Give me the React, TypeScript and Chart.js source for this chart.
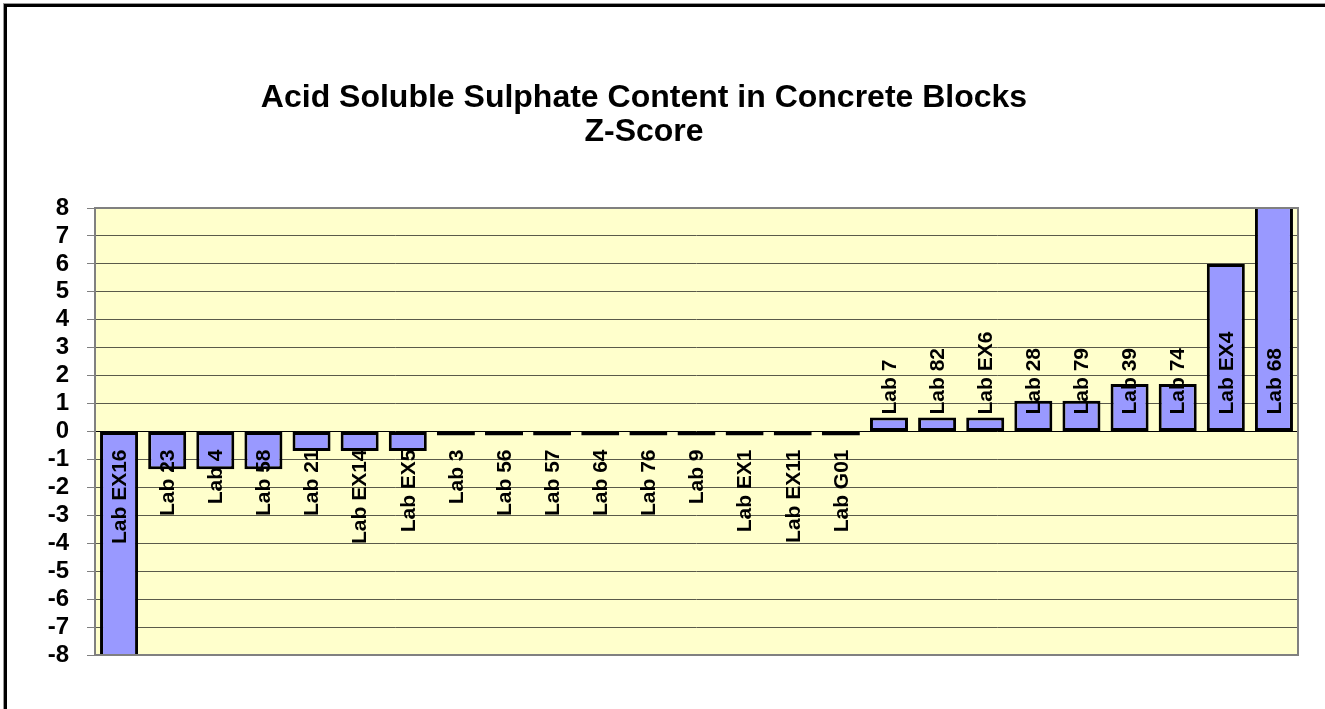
import React, { useEffect, useRef } from "react";
import { Chart, registerables } from "chart.js";

Chart.register(...registerables);

const categories: string[] = [
  "Lab EX16", "Lab 23", "Lab 4", "Lab 58", "Lab 21", "Lab EX14", "Lab EX5",
  "Lab 3", "Lab 56", "Lab 57", "Lab 64", "Lab 76", "Lab 9", "Lab EX1", "Lab EX11", "Lab G01",
  "Lab 7", "Lab 82", "Lab EX6", "Lab 28", "Lab 79", "Lab 39", "Lab 74", "Lab EX4", "Lab 68",
];

const zScores: number[] = [
  -9.5, -1.35, -1.35, -1.35, -0.7, -0.7, -0.7,
  -0.14, -0.14, -0.14, -0.14, -0.14, -0.14, -0.14, -0.14, -0.14,
  0.5, 0.5, 0.5, 1.1, 1.1, 1.7, 1.7, 6.0, 9.5,
];

const titleLines: string[] = ["Acid Soluble Sulphate Content in Concrete Blocks", "Z-Score"];

const yMin = -8;
const yMax = 8;

const FONT = "'Liberation Sans', Arial, sans-serif";

const plotBgPlugin = {
  id: "plotBg",
  beforeDraw(chart: any) {
    const { ctx, chartArea } = chart;
    ctx.save();
    ctx.fillStyle = "#FFFFCC";
    ctx.fillRect(chartArea.left, chartArea.top, chartArea.right - chartArea.left, chartArea.bottom - chartArea.top);
    ctx.restore();
  },
  afterDraw(chart: any) {
    const { ctx, chartArea } = chart;
    ctx.save();
    ctx.strokeStyle = "#808080";
    ctx.lineWidth = 2;
    ctx.strokeRect(chartArea.left, chartArea.top, chartArea.right - chartArea.left, chartArea.bottom - chartArea.top);
    ctx.fillStyle = "#000";
    ctx.font = `bold 32px ${FONT}`;
    ctx.textAlign = "center";
    ctx.textBaseline = "alphabetic";
    ctx.fillText(titleLines[0], 644, 107);
    ctx.fillText(titleLines[1], 644, 141);
    ctx.restore();
  },
};

const barLabelPlugin = {
  id: "barLabels",
  afterDatasetsDraw(chart: any) {
    const { ctx } = chart;
    const meta = chart.getDatasetMeta(0);
    const yScale = chart.scales.y;
    const y0 = yScale.getPixelForValue(0);
    ctx.save();
    ctx.fillStyle = "#000";
    ctx.font = `bold 21px ${FONT}`;
    ctx.textBaseline = "middle";
    meta.data.forEach((bar: any, i: number) => {
      const v = zScores[i];
      ctx.save();
      if (v >= 0) {
        ctx.translate(bar.x, y0 - 17);
        ctx.rotate(-Math.PI / 2);
        ctx.textAlign = "left";
      } else {
        ctx.translate(bar.x, y0 + 18);
        ctx.rotate(-Math.PI / 2);
        ctx.textAlign = "right";
      }
      ctx.fillText(categories[i], 0, 1);
      ctx.restore();
    });
    ctx.restore();
  },
};

function ZScoreChart() {
  const canvasRef = useRef<HTMLCanvasElement>(null);

  useEffect(() => {
    if (!canvasRef.current) return;
    const chart = new Chart(canvasRef.current, {
      type: "bar",
      data: {
        labels: categories,
        datasets: [
          {
            data: zScores,
            backgroundColor: "#9999FF",
            borderColor: "#000000",
            borderWidth: 3,
            borderSkipped: false,
            categoryPercentage: 1,
            barPercentage: 0.79,
          },
        ],
      },
      options: {
        responsive: false,
        animation: false,
        devicePixelRatio: 1,
        layout: { padding: { left: 0, top: 208, right: 27, bottom: 54 } },
        plugins: {
          legend: { display: false },
          title: { display: false },
          tooltip: { enabled: false },
        },
        scales: {
          x: {
            display: false,
          },
          y: {
            min: yMin,
            max: yMax,
            afterFit(scale: any) {
              scale.width = 95;
            },
            ticks: {
              stepSize: 1,
              autoSkip: false,
              color: "#000",
              padding: 18,
              font: { family: FONT, size: 24, weight: "bold" },
            },
            grid: {
              color: (c: any) => (c.tick && c.tick.value === 0 ? "#000000" : "#5a5a4a"),
              tickColor: "#808080",
              tickLength: 8,
              lineWidth: 1,
            },
            border: { display: false },
          },
        },
      },
      plugins: [plotBgPlugin, barLabelPlugin],
    });
    return () => chart.destroy();
  }, []);

  return <canvas ref={canvasRef} width={1325} height={709} style={{ position: "absolute", left: 0, top: 0 }} />;
}

export default function App() {
  return (
    <div style={{ position: "fixed", left: 0, top: 0, width: 1325, height: 709, overflow: "hidden", background: "#fff" }}>
      <div
        style={{
          position: "absolute",
          left: 4,
          top: 4,
          width: 1400,
          height: 800,
          borderTop: "3px solid #000",
          borderLeft: "3px solid #000",
          boxShadow: "-1px -1px 0 #999",
        }}
      />
      <ZScoreChart />
    </div>
  );
}
